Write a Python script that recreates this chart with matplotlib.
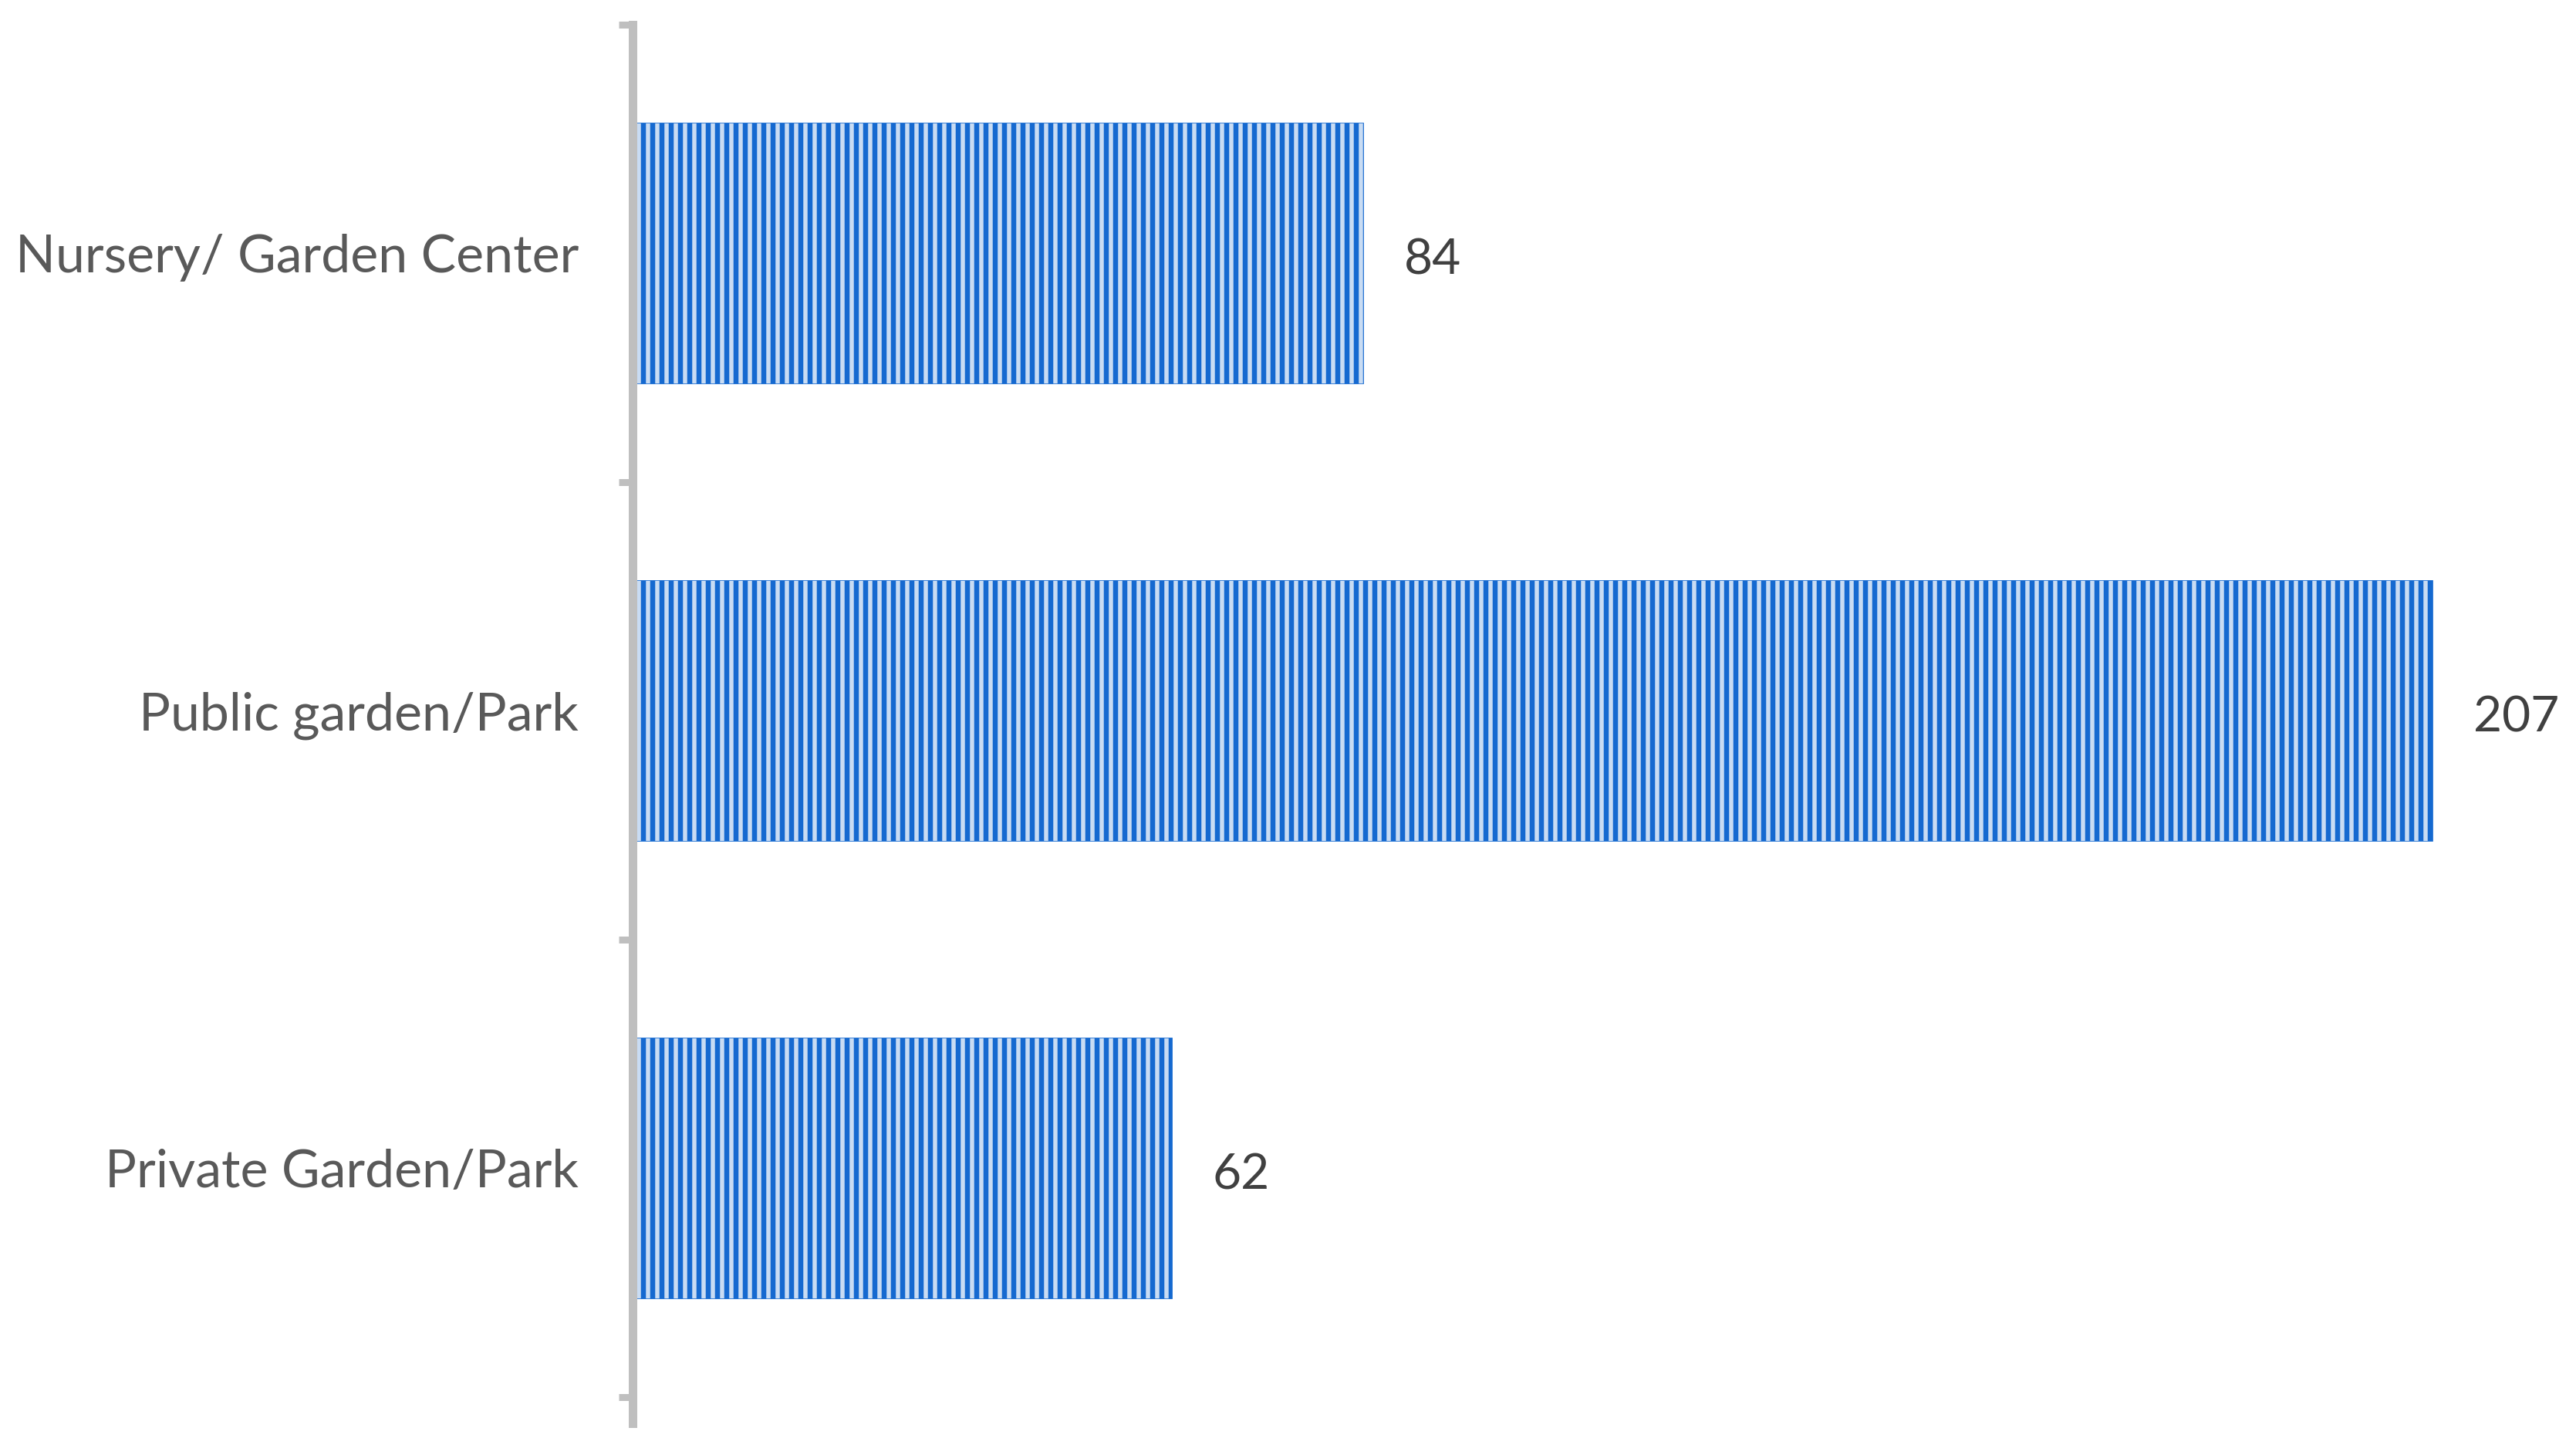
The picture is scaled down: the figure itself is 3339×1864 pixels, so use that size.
import matplotlib.pyplot as plt
import numpy as np

# data
categories = ["Nursery/ Garden Center", "Public garden/Park", "Private Garden/Park"]
counts = [84, 207, 62]

plt.rcParams['font.family'] = ['Lato', 'DejaVu Sans']
plt.rcParams['hatch.linewidth'] = 6.5

DPI = 72
W, H = 3339, 1864
fig = plt.figure(figsize=(W / DPI, H / DPI), dpi=DPI)
# axes: left edge at x=820px, top at y=32px, bottom at y=1845px
ax = fig.add_axes([820 / W, 1 - 1845 / H, (W - 820) / W, (1845 - 32) / H])

y = np.arange(len(categories))
ax.barh(y, counts, height=0.57, color='#C9DCF3', edgecolor='#1569D0',
        hatch='|', linewidth=0.8)

ax.set_xlim(0, (W - 820) / 11.27)
ax.set_ylim(2.558, -0.5)

for yi, v in zip(y, counts):
    ax.text(v + 4.7, yi + 0.015, str(v), va='center', ha='left',
            fontsize=64, color='#404040')

ax.set_yticks(y)
ax.set_yticklabels(categories, fontsize=68, color='#595959')
ax.tick_params(axis='y', which='major', length=0, pad=70)
ax.set_yticks([-0.5, 0.5, 1.5, 2.5], minor=True)
ax.tick_params(axis='y', which='minor', length=18, width=9, color='#BFBFBF')
ax.set_xticks([])

for s in ['top', 'right', 'bottom']:
    ax.spines[s].set_visible(False)
ax.spines['left'].set_color('#BFBFBF')
ax.spines['left'].set_linewidth(11)

fig.savefig('out.png', dpi=DPI, facecolor='white')
